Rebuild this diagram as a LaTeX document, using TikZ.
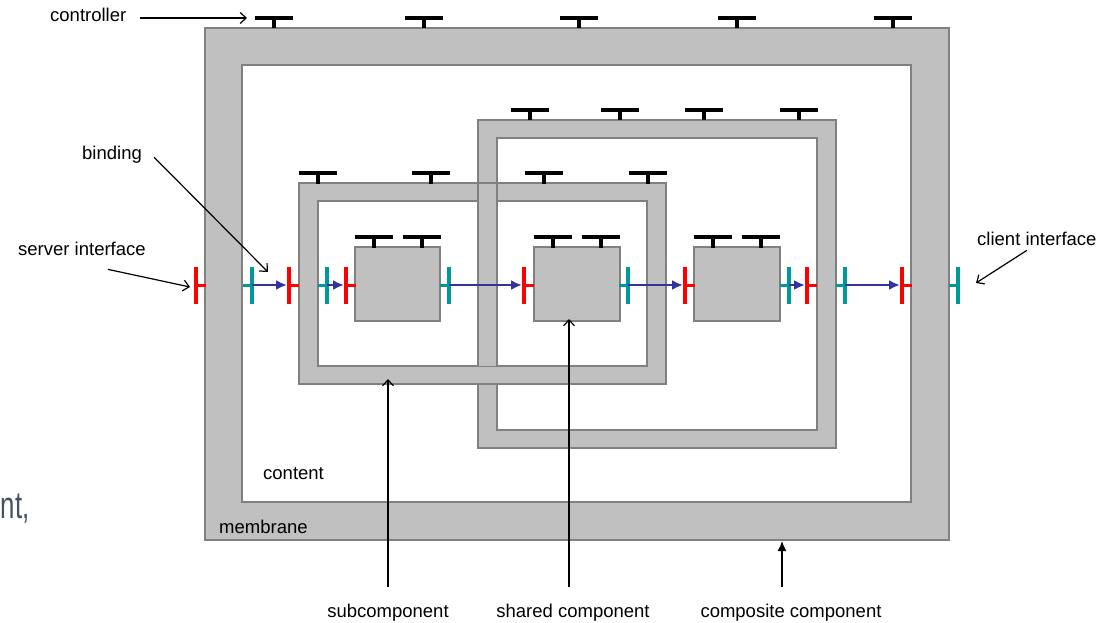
\documentclass[tikz,border=0pt]{standalone}
\usepackage{fontspec}
\setmainfont{Liberation Sans}
\usetikzlibrary{arrows.meta}
\definecolor{memgray}{RGB}{192,192,192}
\definecolor{edgegray}{RGB}{128,128,128}
\definecolor{srvred}{RGB}{255,0,0}
\definecolor{clteal}{RGB}{0,153,153}
\definecolor{bindblue}{RGB}{51,51,160}
\definecolor{slidegray}{RGB}{72,82,94}
\tikzset{
  membr/.style={draw=edgegray, fill=memgray, line width=1.3pt, inner sep=0pt, outer sep=0pt},
  cont/.style={draw=edgegray, fill=white, line width=1.3pt, inner sep=0pt, outer sep=0pt},
  lab/.style={font=\fontsize{18.5}{21}\selectfont, inner sep=0pt, text=black},
  ptr/.style={draw=black, line width=1.2pt, -{Straight Barb[length=6pt,width=11pt]}},
  ptrfill/.style={draw=black, line width=1.3pt, -{Latex[length=10pt,width=9pt]}},
  bind/.style={draw=bindblue, line width=2.4pt, -{Latex[length=11pt,width=10pt]}, shorten >=2pt},
  ctrl/.pic={\draw[line width=4pt] (-19,-10) -- (19,-10); \draw[line width=4.5pt] (0,-10) -- (0,0.5);},
  srv/.pic={\draw[srvred, line width=3.5pt] (0,-18.5) -- (0,18.5); \draw[srvred, line width=3pt] (0,0) -- (9.5,0);},
  clt/.pic={\draw[clteal, line width=3.5pt] (0,-18.5) -- (0,18.5); \draw[clteal, line width=3pt] (-9.5,0) -- (0,0);}
}
\begin{document}
\begin{tikzpicture}[x=1pt,y=-1pt]
\useasboundingbox[fill=white] (0,0) rectangle (1113,623);

% outer composite
\node[membr, minimum width=744pt, minimum height=512pt] (outer) at (577,284) {};
\node[cont, minimum width=669pt, minimum height=437pt] (outerin) at (576.5,283.5) {};

% shared (right) composite
\node[membr, minimum width=358pt, minimum height=328pt] (rcomp) at (657,284) {};
\node[cont, minimum width=320pt, minimum height=292pt] (rcompin) at (657,284) {};

% left composite
\node[membr, minimum width=367pt, minimum height=201pt] (lcomp) at (482.5,283.5) {};
\node[cont, minimum width=329pt, minimum height=165pt] (lcompin) at (482.5,283.5) {};

% right composite bar over left composite
\fill[memgray] (478,183.7) rectangle (497,366);
\draw[edgegray, line width=1.3pt] (478,183) -- (478,366) (497,183) -- (497,366);

% primitive components
\node[membr, minimum width=85pt, minimum height=74pt] (p1) at (397.5,284) {};
\node[membr, minimum width=86pt, minimum height=74pt] (p2) at (577,284) {};
\node[membr, minimum width=86pt, minimum height=74pt] (p3) at (737,284) {};

% controllers
\foreach \x in {274,424,579,737,893} \pic at (\x,28) {ctrl};
\foreach \x in {530,620,704,799} \pic at (\x,120) {ctrl};
\foreach \x in {318,431,544,648} \pic at (\x,183) {ctrl};
\foreach \x in {374,422,553,601,713,761} \pic at (\x,247) {ctrl};

% interfaces
\foreach \x [count=\i from 0] in {196,289,346,524,685,807,902} {
  \coordinate (s\i) at (\x,285);
  \pic at (\x,285) {srv};
}
\foreach \x [count=\i] in {252,327,449,628,789,845,958} {
  \coordinate (c\i) at (\x,285);
  \pic at (\x,285) {clt};
}

% bindings
\draw[bind] (c1) -- (s1);
\draw[bind] (c2) -- (s2);
\draw[bind] (c3) -- (s3);
\draw[bind] (c4) -- (s4);
\draw[bind] (c5) -- (s5);
\draw[bind] (c6) -- (s6);

% labels
\node[lab, anchor=base west] (lctrl) at (50,22) {controller};
\coordinate (ctrlpt) at (247,18);
\draw[ptr, shorten <=14pt] (lctrl.east |- ctrlpt) -- (ctrlpt);

\node[lab, anchor=base west] (lbind) at (82,159) {binding};
\coordinate (bindpt) at (268,272);
\draw[ptr] (lbind.east) ++(12,3) -- (bindpt);

\node[lab, anchor=base west] (lsrv) at (18,255) {server interface};
\coordinate (srvpt) at (190,287);
\draw[ptr] (lsrv.south) ++(26,14) -- (srvpt);

\node[lab, anchor=base west] (lclt) at (977,245) {client interface};
\coordinate (cltpt) at (976,283);
\draw[ptr] (lclt.south) ++(-10,5) -- (cltpt);

\node[lab, anchor=base west] (lcont) at (263,479) {content};
\node[lab, anchor=base west] (lmem) at (219,533) {membrane};

\node[lab, anchor=base] (lsub) at (388,617) {subcomponent};
\coordinate (subpt) at (388,379);
\draw[ptr] (lsub.north -| subpt) ++(0,-16) -- (subpt);

\node[lab, anchor=base] (lshared) at (573,617) {shared component};
\coordinate (sharedpt) at (569,319);
\draw[ptr] (lshared.north -| sharedpt) ++(0,-16) -- (sharedpt);

\node[lab, anchor=base] (lcompo) at (791,617) {composite component};
\coordinate (compopt) at (782,541);
\draw[ptrfill] (lcompo.north -| compopt) ++(0,-16) -- (compopt);

\node[font=\fontsize{38}{40}\selectfont, text=slidegray, anchor=base west, inner sep=0pt] (frag) at (0.5,518) {\scalebox{0.68}[1]{nt,}};
\end{tikzpicture}
\end{document}
